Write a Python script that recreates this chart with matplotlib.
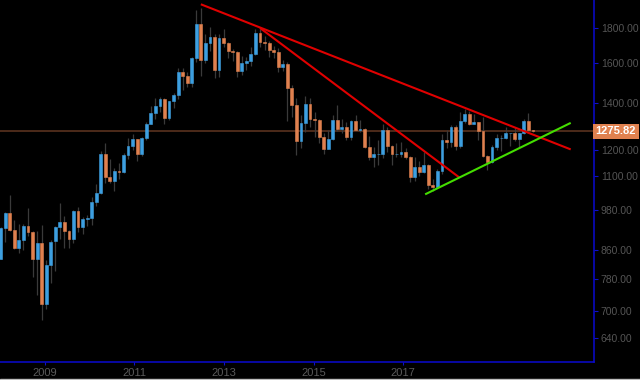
import matplotlib
matplotlib.use('Agg')
import matplotlib.pyplot as plt
import matplotlib.transforms as mtransforms
from matplotlib.patches import Rectangle
from matplotlib.ticker import FixedLocator, FuncFormatter, NullLocator
import numpy as np

# monthly candles, Jan 2008 .. Oct 2017
opens = [834, 923, 972, 917, 865, 887, 929, 913, 833, 880, 718, 816,
         884, 928, 942, 916, 890, 979, 927, 954, 955, 1008, 1040, 1182,
         1096, 1081, 1118, 1113, 1180, 1213, 1244, 1181, 1247, 1307, 1357, 1386,
         1421, 1332, 1410, 1439, 1556, 1536, 1500, 1628, 1826, 1620, 1715, 1746,
         1564, 1740, 1711, 1669, 1664, 1562, 1604, 1614, 1648, 1773, 1719, 1712,
         1675, 1663, 1578, 1596, 1472, 1393, 1234, 1313, 1396, 1327, 1323, 1253,
         1202, 1244, 1326, 1284, 1296, 1250, 1322, 1282, 1287, 1210, 1171, 1183,
         1184, 1283, 1213, 1183, 1184, 1190, 1172, 1095, 1132, 1115, 1142, 1065,
         1061, 1118, 1238, 1233, 1293, 1215, 1322, 1351, 1309, 1316, 1277, 1173,
         1150, 1211, 1249, 1249, 1268, 1268, 1242, 1269, 1322, 1280]
highs = [928, 975, 1033, 950, 936, 937, 989, 915, 915, 935, 830, 887,
         932, 1006, 962, 917, 981, 990, 960, 966, 1024, 1070, 1195, 1227,
         1162, 1128, 1147, 1185, 1249, 1265, 1244, 1250, 1315, 1388, 1424, 1432,
         1424, 1411, 1448, 1575, 1577, 1553, 1632, 1912, 1921, 1764, 1803, 1764,
         1764, 1791, 1719, 1678, 1669, 1640, 1632, 1692, 1791, 1796, 1755, 1723,
         1694, 1683, 1616, 1605, 1487, 1424, 1348, 1434, 1424, 1361, 1327, 1267,
         1280, 1345, 1392, 1331, 1315, 1326, 1345, 1323, 1290, 1255, 1210, 1238,
         1307, 1294, 1219, 1225, 1232, 1205, 1175, 1170, 1157, 1191, 1143, 1088,
         1124, 1263, 1283, 1304, 1303, 1362, 1375, 1367, 1352, 1318, 1337, 1180,
         1220, 1264, 1262, 1295, 1269, 1296, 1270, 1331, 1357, 1283]
lows = [834, 883, 914, 861, 850, 859, 900, 786, 740, 681, 705, 769,
        802, 890, 865, 866, 880, 913, 906, 930, 935, 994, 1036, 1075,
        1074, 1044, 1088, 1110, 1164, 1200, 1157, 1176, 1241, 1305, 1330, 1360,
        1309, 1324, 1380, 1423, 1462, 1478, 1480, 1605, 1535, 1603, 1668, 1523,
        1527, 1692, 1627, 1612, 1527, 1540, 1564, 1587, 1645, 1692, 1673, 1635,
        1627, 1555, 1562, 1321, 1338, 1180, 1208, 1271, 1292, 1251, 1228, 1182,
        1202, 1238, 1277, 1268, 1241, 1240, 1281, 1273, 1205, 1160, 1131, 1142,
        1168, 1191, 1142, 1171, 1170, 1162, 1077, 1081, 1099, 1111, 1052, 1046,
        1061, 1107, 1208, 1212, 1200, 1208, 1310, 1301, 1305, 1241, 1171, 1123,
        1146, 1200, 1195, 1243, 1214, 1236, 1205, 1266, 1271, 1271]
closes = [923, 972, 917, 865, 887, 929, 913, 833, 880, 718, 816, 882,
          928, 942, 916, 890, 979, 927, 954, 955, 1008, 1040, 1182, 1096,
          1081, 1118, 1113, 1180, 1213, 1244, 1181, 1247, 1307, 1357, 1386, 1421,
          1332, 1410, 1439, 1556, 1536, 1500, 1628, 1826, 1620, 1715, 1746, 1564,
          1740, 1711, 1669, 1664, 1562, 1604, 1614, 1648, 1773, 1719, 1712, 1675,
          1663, 1578, 1596, 1472, 1393, 1234, 1313, 1396, 1327, 1323, 1253, 1202,
          1244, 1326, 1284, 1296, 1250, 1322, 1282, 1287, 1210, 1171, 1183, 1184,
          1283, 1213, 1183, 1184, 1190, 1172, 1095, 1132, 1115, 1142, 1065, 1061,
          1118, 1238, 1233, 1293, 1215, 1322, 1351, 1309, 1316, 1277, 1173, 1150,
          1211, 1249, 1249, 1268, 1268, 1242, 1269, 1322, 1280, 1275.82]

last_price = 1275.82
price_ticks = [640, 700, 780, 860, 980, 1100, 1200, 1400, 1600, 1800]
year_labels = ['2009', '2011', '2013', '2015', '2017']
year_pos = [9.7, 29.4, 49.1, 68.8, 88.5]

# trendlines as (candle index, price) pairs
red_line1 = ([44.0, 125.3], [1948, 1201])
red_line2 = ([57.0, 100.8], [1800, 1094])
green_line = ([93.3, 125.3], [1034, 1312])


def main():
    plt.rcParams['font.family'] = ['Liberation Sans', 'DejaVu Sans']
    fig = plt.figure(figsize=(6.4, 3.8), dpi=100, facecolor='black')
    ax = fig.add_axes([0, 0.0474, 0.928, 0.9526])
    ax.set_facecolor('black')

    o = np.array(opens, dtype=float)
    h = np.array(highs, dtype=float)
    l = np.array(lows, dtype=float)
    c = np.array(closes, dtype=float)
    idx = np.arange(len(o))
    up = c >= o
    colors = np.where(up, '#3d9fe0', '#e0814f')

    ax.vlines(idx, l, h, color='#3a3a3a', lw=0.9, zorder=2)
    bottoms = np.minimum(o, c)
    heights = np.abs(c - o)
    ax.bar(idx, heights, bottom=bottoms, width=0.62, color=colors,
           edgecolor=colors, linewidth=0.4, zorder=3)

    ax.axhline(last_price, color='#4d2b1a', lw=1.4, zorder=1)

    ax.plot(*red_line1, color='#e00000', lw=1.5, zorder=4, solid_capstyle='butt')
    ax.plot(*red_line2, color='#e00000', lw=1.5, zorder=4, solid_capstyle='butt')
    ax.plot(*green_line, color='#44dd00', lw=1.5, zorder=4, solid_capstyle='butt')

    ax.set_yscale('log')
    ax.set_ylim(591.4, 1976)
    ax.set_xlim(-0.154, 130.4)

    ax.yaxis.set_major_locator(FixedLocator(price_ticks))
    ax.yaxis.set_minor_locator(NullLocator())
    ax.yaxis.set_major_formatter(FuncFormatter(lambda v, p: '%.2f' % v))
    ax.yaxis.tick_right()
    ax.tick_params(axis='y', which='major', direction='out', length=3, width=0.8,
                   color='#1010c8', labelcolor='#555555', labelsize=7.5, pad=2)

    ax.set_xticks(year_pos)
    ax.set_xticklabels(year_labels, family=['Liberation Sans Narrow', 'Liberation Sans'])
    ax.tick_params(axis='x', direction='out', length=2.5, width=0.8,
                   color='#1010c8', labelcolor='#5a5a5a', labelsize=8, pad=2)

    for side in ['top', 'left']:
        ax.spines[side].set_visible(False)
    for side in ['right', 'bottom']:
        ax.spines[side].set_color('#0a0ad0')
        ax.spines[side].set_linewidth(1.1)

    trans = mtransforms.blended_transform_factory(ax.transAxes, ax.transData)
    ax.text(1.003, last_price, '1275.82', transform=trans, ha='left', va='center',
            color='white', fontsize=8, fontweight='bold', zorder=6, clip_on=False,
            bbox=dict(boxstyle='square,pad=0.22', fc='#e0814f', ec='none'))

    fig.patches.append(Rectangle((0, 0), 1, 1.5 / 380, transform=fig.transFigure,
                                 color='#bdbdbd', zorder=0))

    fig.savefig('out.png', dpi=100, facecolor='black')


if __name__ == '__main__':
    main()
